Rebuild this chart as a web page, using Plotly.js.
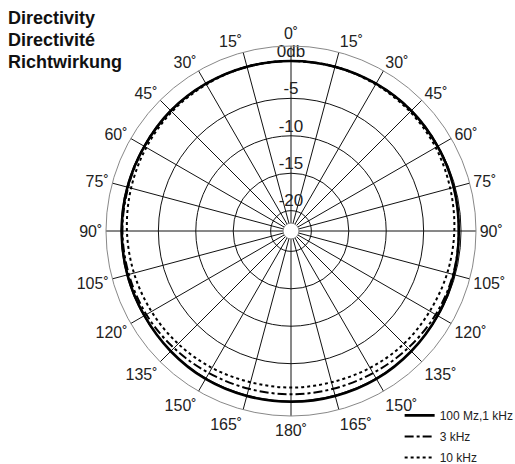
<!DOCTYPE html>
<html>
<head>
<meta charset="utf-8">
<script src="https://cdn.plot.ly/plotly-3.0.1.min.js"></script>
<style>html,body{margin:0;padding:0;background:#fff;}#chart{width:515px;height:464px;}</style>
</head>
<body>
<div id="chart"></div>
<script>
// Angles (degrees, clockwise from top)
const angles = [0,15,30,45,60,75,90,105,120,135,150,165,180,195,210,225,240,255,270,285,300,315,330,345,360];
// Level in dB
const lowMid = [0,0,0,0,-0.1,-0.2,-0.3,-0.2,-0.1,0,0.1,0.1,0.1,0.1,0.1,0,-0.1,-0.1,-0.1,-0.1,-0.1,0,0,0,0];
const k3 = [0,0,0,0,-0.1,-0.2,-0.3,-0.3,-0.4,-0.6,-0.8,-0.9,-0.9,-0.9,-0.8,-0.6,-0.4,-0.3,-0.2,-0.2,-0.1,0,0,0,0];
const k10 = [0,0,-0.1,-0.2,-0.4,-0.7,-0.9,-1.1,-1.3,-1.4,-1.6,-1.8,-1.8,-1.8,-1.6,-1.4,-1.2,-1.0,-0.8,-0.6,-0.4,-0.2,-0.1,0,0];
const seriesNames = ['100 Mz,1 kHz','3 kHz','10 kHz'];
// Grid rings and labels
const ringVals = [-20,-15,-10,-5,0];
const ringLabels = ['-20','-15','-10','-5','0db'];
const angleTicks = [0,15,30,45,60,75,90,105,120,135,150,165,180,195,210,225,240,255,270,285,300,315,330,345];
const angleLabels = ['0˚','15˚','30˚','45˚','60˚','75˚','90˚','105˚','120˚','135˚','150˚','165˚','180˚','165˚','150˚','135˚','120˚','105˚','90˚','75˚','60˚','45˚','30˚','15˚'];
const titleLines = ['Directivity','Directivité','Richtwirkung'];

const font = 'Liberation Sans, Arial, sans-serif';
const traces = [
  {type:'scatterpolar', mode:'lines', r: lowMid, theta: angles, name: seriesNames[0], legendgroup:'a',
   line:{color:'#000', width:2.6, shape:'spline'}},
  {type:'scatterpolar', mode:'lines', r: k3, theta: angles, name: seriesNames[1], legendgroup:'b',
   line:{color:'#000', width:2, dash:'dashdot', shape:'spline'}},
  {type:'scatterpolar', mode:'lines', r: k10, theta: angles, name: seriesNames[2], legendgroup:'c',
   line:{color:'#000', width:2, dash:'dot', shape:'spline'}},
  {type:'scatterpolar', mode:'text', r: ringVals, theta: ringVals.map(()=>0), text: ringLabels,
   textposition:'top center', textfont:{family:font, size:17, color:'#222'}, showlegend:false, hoverinfo:'skip'}
];

const layout = {
  width:515, height:464,
  margin:{l:0,r:0,t:0,b:0,autoexpand:false},
  paper_bgcolor:'#fff', plot_bgcolor:'#fff',
  font:{family:font, color:'#222'},
  showlegend:true,
  legend:{x:0.776, y:0.136, xanchor:'left', yanchor:'top', font:{family:font, size:12, color:'#222'},
          bgcolor:'rgba(0,0,0,0)', itemwidth:30, tracegroupgap:2},
  polar:{
    domain:{x:[0.2058,0.9243], y:[0.1034,0.9009]},
    hole:0.043,
    bgcolor:'#fff',
    radialaxis:{range:[-21.66,2.0], tickvals:ringVals.concat([-21.66]), showticklabels:false, ticks:'',
                showline:false, gridcolor:'#111', gridwidth:1},
    angularaxis:{rotation:90, direction:'clockwise', tickvals:angleTicks, ticktext:angleLabels,
                 ticks:'', showline:true, linecolor:'#888', linewidth:1,
                 gridcolor:'#111', gridwidth:1,
                 tickfont:{family:font, size:16, color:'#222'}}
  },
  annotations: titleLines.map((t,i)=>({text:'<b>'+t+'</b>', xref:'paper', yref:'paper', x:6/515, y:1-(18.5+i*22)/464,
     xanchor:'left', yanchor:'middle', showarrow:false, font:{family:font, size:18, color:'#111'}}))
};
Plotly.newPlot('chart', traces, layout, {displayModeBar:false, staticPlot:true});
</script>
</body>
</html>
